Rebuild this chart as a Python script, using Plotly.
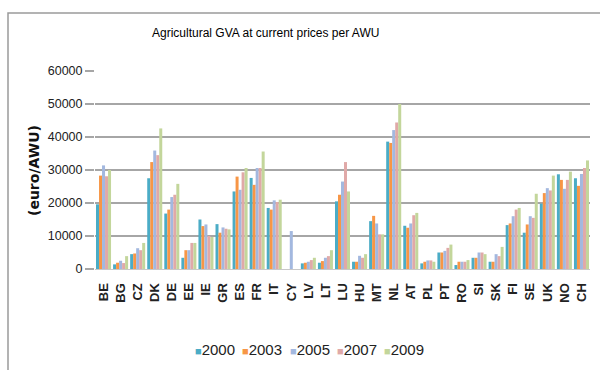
import plotly.graph_objects as go

countries = ["BE", "BG", "CZ", "DK", "DE", "EE", "IE", "GR", "ES", "FR", "IT", "CY",
             "LV", "LT", "LU", "HU", "MT", "NL", "AT", "PL", "PT", "RO", "SI", "SK",
             "FI", "SE", "UK", "NO", "CH"]

years = ["2000", "2003", "2005", "2007", "2009"]

v2000 = [19600, 1400, 4500, 27500, 16800, 3400, 15000, 13600, 23500, 27600, 18500, None,
         1700, 1900, 20500, 2200, 14500, 38600, 13100, 1700, 5000, 1200, 3400, 2200,
         13300, 11000, 19800, 28700, 27500]
v2003 = [28300, 1900, 4700, 32400, 18000, 5700, 13000, 11000, 28000, 25500, 18000, None,
         1900, 2400, 22500, 2200, 16100, 38200, 12500, 2200, 5000, 2200, 3400, 2200,
         13800, 13500, 23000, 27000, 25200]
v2005 = [31400, 2500, 6300, 35900, 21800, 5700, 13500, 12600, 24000, 30600, 20800, 11500,
         2200, 3400, 26500, 4000, 13800, 42100, 13800, 2600, 5500, 2200, 5000, 4500,
         16000, 16000, 24500, 24300, 28800]
v2007 = [28100, 1800, 5700, 34500, 22500, 7900, 10000, 12200, 29300, 30600, 20300, None,
         2700, 3900, 32400, 3400, 10500, 44400, 16300, 2600, 6400, 2200, 5000, 3900,
         18000, 15500, 23800, 27000, 30600]
v2009 = [30000, 3900, 7900, 42600, 25800, 7900, 9700, 12000, 30600, 35600, 21000, None,
         3400, 5700, 23500, 4500, 10500, 50000, 17000, 2200, 7400, 2700, 4500, 6700,
         18500, 22800, 28300, 29500, 32900]

colors = ["#4bacc6", "#f79646", "#a3b8df", "#e0a9a8", "#c3d69b"]
series = [v2000, v2003, v2005, v2007, v2009]

SANS = "Liberation Sans, Arial, sans-serif"

# plot area in pixels: x 95..590, y 71..269
L, R, T, B = 95, 10, 71, 101
PW, PH = 600 - L - R, 370 - T - B


def px(x):
    return (x - L) / PW


def py(y):
    return (370 - B - y) / PH


fig = go.Figure()
for name, vals, col in zip(years, series, colors):
    fig.add_trace(go.Bar(name=name, x=countries, y=vals, marker_color=col,
                         marker_line_width=0, showlegend=False))

annotations = [
    dict(text="Agricultural GVA at current prices per AWU", xref="paper", yref="paper",
         x=px(265), y=py(33), xanchor="center", yanchor="middle",
         showarrow=False, font=dict(family=SANS, size=12, color="#000")),
    dict(text="<b>(euro/AWU)</b>", xref="paper", yref="paper",
         x=px(34), y=py(171), xanchor="center", yanchor="middle",
         textangle=-90, showarrow=False,
         font=dict(family="DejaVu Sans, sans-serif", size=14, color="#111")),
]

# legend row: small coloured square followed by the year
for i, (name, col) in enumerate(zip(years, colors)):
    annotations.append(dict(
        text=f'<span style="color:{col};font-size:11px">■</span>{name}',
        xref="paper", yref="paper", x=px(193 + 47.3 * i), y=py(349),
        xanchor="left", yanchor="middle", showarrow=False,
        font=dict(family=SANS, size=15, color="#222")))

fig.update_layout(
    width=600, height=370,
    margin=dict(l=L, r=R, t=T, b=B),
    paper_bgcolor="white", plot_bgcolor="white",
    barmode="group", bargap=0.12, bargroupgap=0,
    font=dict(family=SANS, color="#222", size=12),
    xaxis=dict(type="category", tickangle=-90, showgrid=False,
               tickfont=dict(family=SANS, size=13, color="#222", weight="bold"),
               ticklabelstandoff=8,
               showline=True, linecolor="#c8c8c8", linewidth=1, ticks=""),
    yaxis=dict(range=[0, 60000], dtick=10000, showgrid=True, gridcolor="#a6a6a6",
               gridwidth=1.5, zeroline=False, showline=False, ticks="outside",
               ticklen=9, tickcolor="#a6a6a6", tickwidth=1.5,
               tickfont=dict(family=SANS, size=12.5, color="#222"), tickformat="d"),
    shapes=[dict(type="rect", xref="paper", yref="paper",
                 x0=px(8), x1=px(640), y0=py(500), y1=py(13),
                 line=dict(color="#9a9a9a", width=1.5), layer="below")],
    annotations=annotations,
)

fig.write_html("out.html")
